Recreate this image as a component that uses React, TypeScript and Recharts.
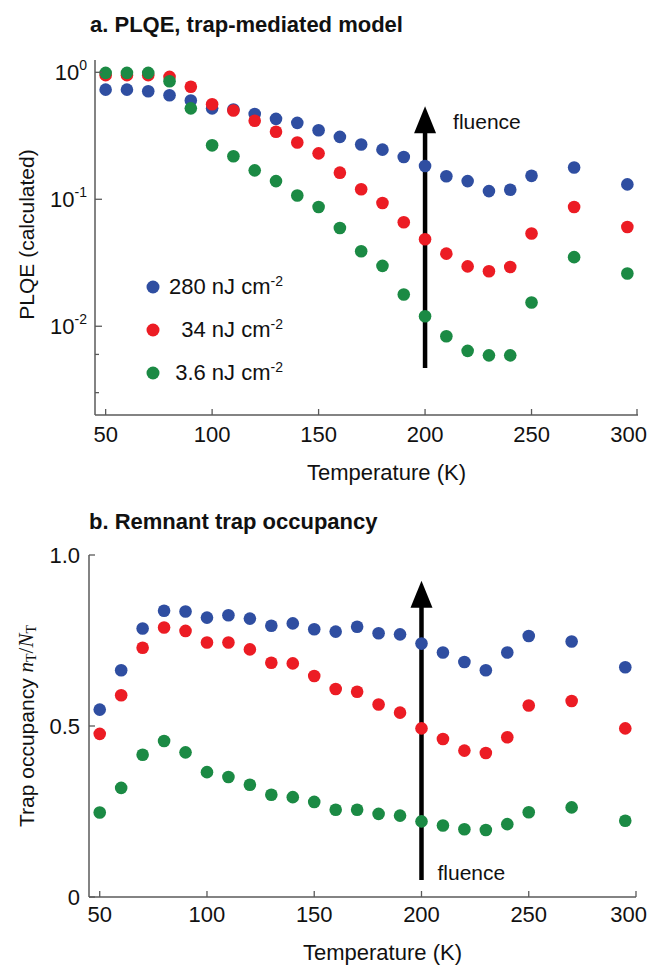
import React from 'react';
import { ScatterChart, Scatter, XAxis, YAxis, ReferenceLine, Legend } from 'recharts';

// temperatures (K) shared by both panels
const temperatures = [50, 60, 70, 80, 90, 100, 110, 120, 130, 140, 150, 160, 170, 180, 190, 200, 210, 220, 230, 240, 250, 270, 295];

// panel a: calculated PLQE
const plqe280 = [0.73, 0.73, 0.71, 0.66, 0.6, 0.52, 0.51, 0.47, 0.43, 0.4, 0.35, 0.31, 0.27, 0.246, 0.215, 0.183, 0.152, 0.139, 0.116, 0.119, 0.153, 0.178, 0.131];
const plqe34 = [0.95, 0.95, 0.95, 0.92, 0.77, 0.56, 0.5, 0.415, 0.34, 0.28, 0.23, 0.162, 0.12, 0.0935, 0.066, 0.0484, 0.0373, 0.0296, 0.0271, 0.0293, 0.0537, 0.087, 0.0605];
const plqe36 = [0.99, 0.99, 0.99, 0.85, 0.52, 0.266, 0.218, 0.169, 0.139, 0.107, 0.087, 0.0594, 0.039, 0.0299, 0.0178, 0.012, 0.00834, 0.0064, 0.0059, 0.0059, 0.0154, 0.035, 0.026];

// panel b: remnant trap occupancy
const occ280 = [0.548, 0.663, 0.785, 0.837, 0.835, 0.817, 0.824, 0.814, 0.793, 0.8, 0.783, 0.776, 0.79, 0.771, 0.768, 0.741, 0.715, 0.687, 0.663, 0.715, 0.763, 0.747, 0.672];
const occ34 = [0.477, 0.59, 0.729, 0.788, 0.778, 0.744, 0.744, 0.724, 0.685, 0.683, 0.646, 0.608, 0.6, 0.563, 0.539, 0.493, 0.462, 0.428, 0.421, 0.467, 0.56, 0.573, 0.493];
const occ36 = [0.247, 0.319, 0.416, 0.456, 0.423, 0.365, 0.351, 0.328, 0.299, 0.292, 0.278, 0.255, 0.255, 0.243, 0.238, 0.221, 0.209, 0.198, 0.196, 0.213, 0.248, 0.262, 0.223];

const fluenceLabels = ['280', '34', '3.6'];
const seriesColors = ['#2f4ea1', '#ec1c24', '#1b8a44'];

const tempTicks = [50, 100, 150, 200, 250, 300];
const tempDomain = [45, 300];
const plqeDomain = [0.002, 1.25];
const plqeMajorTicks = [0.01, 0.1, 1];
const plqeMinorTicks = [0.001, 0.01, 0.1]
  .flatMap((d) => [2, 3, 4, 5, 6, 7, 8, 9].map((m) => Number((m * d).toPrecision(2))))
  .filter((v) => v >= plqeDomain[0]);
const occTicks = [0, 0.5, 1];
const occTickLabels = ['0', '0.5', '1.0'];

// arrow annotations (data units)
const plqeArrow = [{ x: 200, y: 0.0047 }, { x: 200, y: 0.54 }];
const occArrow = [{ x: 200, y: 0.05 }, { x: 200, y: 0.925 }];

const FONT = '"Liberation Sans", Arial, Helvetica, sans-serif';
const SERIF = '"Liberation Serif", "Times New Roman", serif';
const AXIS = '#5a5a5a';
const INK = '#111';
const FS = 22;

const toRows = (ys: number[]) => temperatures.map((t, i) => ({ t, v: ys[i] }));

const dot = (color: string) => (p: any) => <circle cx={p.cx} cy={p.cy} r={6.3} fill={color} />;

function makeXTick(labelDy: number, top: boolean) {
  return (p: any) => {
    const last = p.payload.value === tempTicks[tempTicks.length - 1];
    return (
      <g>
        <line x1={p.x} y1={p.y} x2={p.x} y2={top ? p.y + 6 : p.y - 6} stroke={AXIS} strokeWidth={1.3} />
        {!top && (
          <text
            x={last ? 647 : p.x}
            y={p.y + labelDy}
            textAnchor={last ? 'end' : 'middle'}
            fontSize={FS}
            fontFamily={FONT}
            fill={INK}
          >
            {p.payload.value}
          </text>
        )}
      </g>
    );
  };
}

function makeLogTick(right: boolean) {
  return (p: any) => {
    const v = p.payload.value;
    const major = plqeMajorTicks.includes(v);
    const len = major ? 7 : 4;
    const exp = Math.round(Math.log10(v));
    return (
      <g>
        <line x1={p.x} y1={p.y} x2={right ? p.x - len : p.x + len} y2={p.y} stroke={AXIS} strokeWidth={1.3} />
        {major && !right && (
          <text x={p.x - 8} y={p.y + 8} textAnchor="end" fontSize={FS} fontFamily={FONT} fill={INK}>
            10<tspan dy={-10} fontSize={14}>{exp}</tspan>
          </text>
        )}
      </g>
    );
  };
}

function makeOccTick(right: boolean) {
  return (p: any) => {
    const i = occTicks.indexOf(p.payload.value);
    return (
      <g>
        <line x1={p.x} y1={p.y} x2={right ? p.x - 6 : p.x + 6} y2={p.y} stroke={AXIS} strokeWidth={1.3} />
        {!right && (
          <text x={p.x - 9} y={p.y + 8} textAnchor="end" fontSize={FS} fontFamily={FONT} fill={INK}>
            {occTickLabels[i]}
          </text>
        )}
      </g>
    );
  };
}

function XTitle({ viewBox, dy }: any) {
  return (
    <text x={viewBox.x + viewBox.width / 2 + 20} y={viewBox.y + dy} textAnchor="middle" fontSize={FS} fontFamily={FONT} fill={INK}>
      Temperature (K)
    </text>
  );
}

function PlqeTitle({ viewBox }: any) {
  const x = 26;
  const y = viewBox.y + viewBox.height / 2 - 3;
  return (
    <text x={x} y={y} transform={`rotate(-90, ${x}, ${y})`} textAnchor="middle" dominantBaseline="central" fontSize={21} fontFamily={FONT} fill={INK}>
      PLQE (calculated)
    </text>
  );
}

function OccTitle({ viewBox }: any) {
  const x = 26;
  const y = viewBox.y + viewBox.height / 2;
  return (
    <text x={x} y={y} transform={`rotate(-90, ${x}, ${y})`} textAnchor="middle" dominantBaseline="central" fontSize={21} fontFamily={FONT} fill={INK}>
      Trap occupancy{' '}
      <tspan fontFamily={SERIF} fontStyle="italic">n</tspan>
      <tspan fontFamily={SERIF} fontSize={14} dy={5}>T</tspan>
      <tspan fontFamily={SERIF} dy={-5}>/</tspan>
      <tspan fontFamily={SERIF} fontStyle="italic">N</tspan>
      <tspan fontFamily={SERIF} fontSize={14} dy={5}>T</tspan>
    </text>
  );
}

function arrowShape(textDx: number, textAtTop: boolean) {
  return (p: any) => {
    const x = p.x1;
    const tip = Math.min(p.y1, p.y2);
    const tail = Math.max(p.y1, p.y2);
    const headH = 27;
    const headW = 22;
    return (
      <g>
        <line x1={x} y1={tail} x2={x} y2={tip + headH - 2} stroke="#000" strokeWidth={4.5} />
        <polygon points={`${x},${tip} ${x - headW / 2},${tip + headH} ${x + headW / 2},${tip + headH}`} fill="#000" />
        <text x={x + textDx} y={textAtTop ? tip + 23 : tail} fontSize={21} fontFamily={FONT} fill={INK}>
          fluence
        </text>
      </g>
    );
  };
}

function FluenceLegend() {
  return (
    <div style={{ fontFamily: FONT, fontSize: FS, color: INK }}>
      {fluenceLabels.map((lab, i) => (
        <div key={lab} style={{ display: 'flex', alignItems: 'center', height: 43 }}>
          <svg width={14} height={14}>
            <circle cx={7} cy={7} r={6.5} fill={seriesColors[i]} />
          </svg>
          <span style={{ width: 123, textAlign: 'right', whiteSpace: 'nowrap' }}>
            {lab} nJ cm
            <sup style={{ fontSize: 14, lineHeight: 0, verticalAlign: 'super' }}>-2</sup>
          </span>
        </div>
      ))}
    </div>
  );
}

const titleStyle: React.CSSProperties = {
  position: 'absolute',
  fontFamily: FONT,
  fontWeight: 'bold',
  fontSize: FS,
  lineHeight: '24px',
  color: INK,
  whiteSpace: 'nowrap',
};

export default function App() {
  const plqeSeries = [plqe280, plqe34, plqe36];
  const occSeries = [occ280, occ34, occ36];
  return (
    <div style={{ position: 'absolute', left: 0, top: 0, width: 649, height: 965, background: '#fff' }}>
      <div style={{ ...titleStyle, left: 90, top: 13 }}>a. PLQE, trap-mediated model</div>
      <div style={{ position: 'absolute', left: 0, top: 0 }}>
        <ScatterChart width={649} height={490} margin={{ top: 60, right: 11, bottom: 0, left: 0 }}>
          <XAxis
            dataKey="t"
            type="number"
            domain={tempDomain}
            ticks={tempTicks}
            allowDataOverflow
            height={75}
            tickSize={0}
            tickMargin={0}
            tick={makeXTick(27, false)}
            axisLine={{ stroke: AXIS, strokeWidth: 1.5 }}
            label={<XTitle dy={65} />}
          />
          <XAxis
            xAxisId="top"
            orientation="top"
            type="number"
            domain={tempDomain}
            ticks={tempTicks}
            allowDataOverflow
            height={0}
            tickSize={0}
            tickMargin={0}
            tick={makeXTick(0, true)}
            axisLine={{ stroke: AXIS, strokeWidth: 1.5 }}
          />
          <YAxis
            dataKey="v"
            type="number"
            scale="log"
            domain={plqeDomain}
            ticks={[...plqeMinorTicks, ...plqeMajorTicks]}
            allowDataOverflow
            width={95}
            tickSize={0}
            tickMargin={0}
            tick={makeLogTick(false)}
            axisLine={{ stroke: AXIS, strokeWidth: 1.5 }}
            label={<PlqeTitle />}
          />
          <YAxis
            yAxisId="right"
            orientation="right"
            type="number"
            scale="log"
            domain={plqeDomain}
            ticks={[...plqeMinorTicks, ...plqeMajorTicks]}
            allowDataOverflow
            width={0}
            tickSize={0}
            tickMargin={0}
            tick={makeLogTick(true)}
            axisLine={{ stroke: AXIS, strokeWidth: 1.5 }}
          />
          {plqeSeries.map((ys, i) => (
            <Scatter
              key={i}
              name={fluenceLabels[i]}
              data={toRows(ys)}
              fill={seriesColors[i]}
              shape={dot(seriesColors[i])}
              isAnimationActive={false}
            />
          ))}
          <ReferenceLine segment={plqeArrow} shape={arrowShape(28, true)} />
          <Legend
            layout="vertical"
            align="center"
            verticalAlign="middle"
            content={<FluenceLegend />}
            wrapperStyle={{ left: 146, top: 265, width: 160 }}
          />
        </ScatterChart>
      </div>

      <div style={{ ...titleStyle, left: 89, top: 510 }}>b. Remnant trap occupancy</div>
      <div style={{ position: 'absolute', left: 0, top: 490 }}>
        <ScatterChart width={649} height={475} margin={{ top: 65, right: 13, bottom: 0, left: 0 }}>
          <XAxis
            dataKey="t"
            type="number"
            domain={tempDomain}
            ticks={tempTicks}
            allowDataOverflow
            height={68}
            tickSize={0}
            tickMargin={0}
            tick={makeXTick(25, false)}
            axisLine={{ stroke: AXIS, strokeWidth: 1.5 }}
            label={<XTitle dy={63} />}
          />
          <XAxis
            xAxisId="top"
            orientation="top"
            type="number"
            domain={tempDomain}
            ticks={tempTicks}
            allowDataOverflow
            height={0}
            tickSize={0}
            tickMargin={0}
            tick={makeXTick(0, true)}
            axisLine={{ stroke: AXIS, strokeWidth: 1.5 }}
          />
          <YAxis
            dataKey="v"
            type="number"
            domain={[0, 1]}
            ticks={occTicks}
            allowDataOverflow
            width={89}
            tickSize={0}
            tickMargin={0}
            tick={makeOccTick(false)}
            axisLine={{ stroke: AXIS, strokeWidth: 1.5 }}
            label={<OccTitle />}
          />
          <YAxis
            yAxisId="right"
            orientation="right"
            type="number"
            domain={[0, 1]}
            ticks={occTicks}
            allowDataOverflow
            width={0}
            tickSize={0}
            tickMargin={0}
            tick={makeOccTick(true)}
            axisLine={{ stroke: AXIS, strokeWidth: 1.5 }}
          />
          {occSeries.map((ys, i) => (
            <Scatter
              key={i}
              name={fluenceLabels[i]}
              data={toRows(ys)}
              fill={seriesColors[i]}
              shape={dot(seriesColors[i])}
              isAnimationActive={false}
            />
          ))}
          <ReferenceLine segment={occArrow} shape={arrowShape(16, false)} />
        </ScatterChart>
      </div>
    </div>
  );
}
